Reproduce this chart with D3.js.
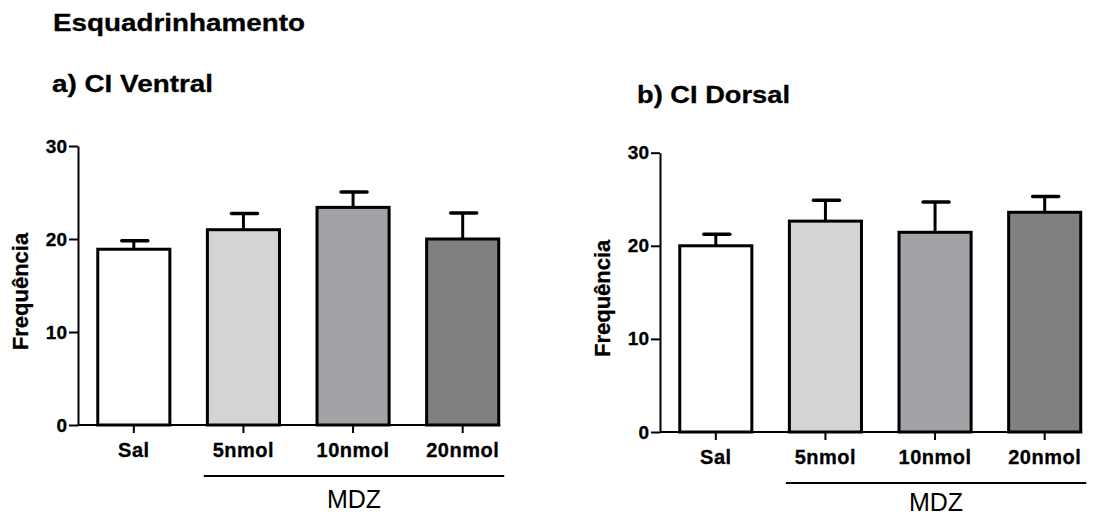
<html>
<head>
<meta charset="utf-8">
<title>Esquadrinhamento</title>
<style>
  body { margin: 0; background: #fff; }
  text { font-family: 'Liberation Sans', Arial, Helvetica, sans-serif; }
</style>
<script src="https://cdnjs.cloudflare.com/ajax/libs/d3/7.8.5/d3.min.js"></script>
</head>
<body>
<div id="plot"></div>
<script>
  // data
  var categories = ["Sal", "5nmol", "10nmol", "20nmol"];
  var ventralMeans = [18.9, 21.0, 23.4, 20.0];
  var ventralErr   = [0.9, 1.75, 1.65, 2.8];
  var dorsalMeans  = [20.0, 22.65, 21.45, 23.6];
  var dorsalErr    = [1.25, 2.25, 3.25, 1.7];
  var yTicks = [0, 10, 20, 30];
  var fills = ["#ffffff", "#d4d4d4", "#a3a2a7", "#808080"];

  var w = 1097, h = 520;

  var svg = d3.select("#plot").append("svg")
      .attr("width", w)
      .attr("height", h);

  svg.append("text")
     .attr("x", 53).attr("y", 31)
     .attr("font-size", 24).attr("font-weight", "bold")
     .attr("stroke", "#000").attr("stroke-width", 0.3)
     .attr("textLength", 252).attr("lengthAdjust", "spacingAndGlyphs")
     .text("Esquadrinhamento");

  function panel(opt) {
    var g = svg.append("g");

    var y = d3.scaleLinear().domain([0, 30]).range([opt.y0, opt.y30]);
    var x = d3.scaleBand().domain(categories)
        .range([opt.x0 + 1, opt.x0 + 1 + 438.5])
        .paddingInner(0.315).paddingOuter(0.1575);

    // title
    g.append("text")
     .attr("x", opt.titleX).attr("y", opt.titleY)
     .attr("font-size", 24).attr("font-weight", "bold")
     .attr("stroke", "#000").attr("stroke-width", 0.3)
     .attr("textLength", opt.titleLen).attr("lengthAdjust", "spacingAndGlyphs")
     .text(opt.title);

    // error bars (under the bars)
    g.selectAll(".err").data(categories).enter().append("g")
     .each(function(c, i) {
        var cx = x(c) + x.bandwidth() / 2;
        var top = y(opt.means[i] + opt.err[i]);
        d3.select(this).append("line")
          .attr("x1", cx).attr("x2", cx)
          .attr("y1", y(opt.means[i])).attr("y2", top)
          .attr("stroke", "#000").attr("stroke-width", 3);
        d3.select(this).append("line")
          .attr("x1", cx - 12).attr("x2", cx + 14)
          .attr("y1", top).attr("y2", top)
          .attr("stroke", "#000").attr("stroke-width", 3.5)
          .attr("stroke-linecap", "round");
     });

    // bars
    g.selectAll(".bar").data(categories).enter().append("rect")
     .attr("x", function(c) { return x(c) + 1.5; })
     .attr("width", x.bandwidth() - 3)
     .attr("y", function(c, i) { return y(opt.means[i]); })
     .attr("height", function(c, i) { return opt.y0 - y(opt.means[i]); })
     .attr("fill", function(c, i) { return fills[i]; })
     .attr("stroke", "#000").attr("stroke-width", 3);

    // y axis
    var yAxis = d3.axisLeft(y).tickValues(yTicks).tickSize(9).tickPadding(2).tickSizeOuter(0);
    var ya = g.append("g").attr("transform", "translate(" + opt.x0 + ",0)").call(yAxis);
    ya.select(".domain").attr("stroke-width", 2);
    ya.selectAll(".tick line").attr("stroke-width", 2);
    ya.selectAll(".tick text")
      .attr("font-size", 19).attr("font-weight", "bold")
      .attr("font-family", "'Liberation Sans', Arial, sans-serif")
      .attr("stroke", "#000").attr("stroke-width", 0.3)
      .attr("fill", "#000");

    // x axis
    var lastRight = x(categories[categories.length - 1]) + x.bandwidth();
    var xAxis = d3.axisBottom(x).tickSize(8).tickPadding(10).tickSizeOuter(0);
    var xa = g.append("g").attr("transform", "translate(0," + opt.y0 + ")").call(xAxis);
    xa.select(".domain").remove();
    xa.append("line")
      .attr("x1", opt.x0).attr("x2", lastRight)
      .attr("stroke", "#000").attr("stroke-width", 2);
    xa.selectAll(".tick line").attr("stroke-width", 2);
    xa.selectAll(".tick text")
      .attr("font-size", 20).attr("font-weight", "bold")
      .attr("letter-spacing", "0.5px")
      .attr("font-family", "'Liberation Sans', Arial, sans-serif")
      .attr("stroke", "#000").attr("stroke-width", 0.3)
      .attr("fill", "#000");

    // y label
    g.append("text")
     .attr("transform", "translate(" + (opt.x0 - 50) + "," + ((opt.y0 + opt.y30) / 2 + 6) + ") rotate(-90)")
     .attr("text-anchor", "middle")
     .attr("font-size", 22).attr("font-weight", "bold")
     .attr("stroke", "#000").attr("stroke-width", 0.3)
     .text("Frequência");

    // MDZ bracket
    var mx1 = x("5nmol") - 2, mx2 = lastRight + 4;
    g.append("line")
     .attr("x1", mx1).attr("x2", mx2)
     .attr("y1", opt.y0 + 51).attr("y2", opt.y0 + 51)
     .attr("stroke", "#000").attr("stroke-width", 2);
    g.append("text")
     .attr("x", (mx1 + mx2) / 2).attr("y", opt.mdzY)
     .attr("text-anchor", "middle")
     .attr("font-size", 25)
     .text("MDZ");
  }

  panel({ x0: 78, y0: 425, y30: 146, means: ventralMeans, err: ventralErr, mdzY: 508,
          title: "a) CI Ventral", titleX: 52, titleY: 92, titleLen: 161 });
  panel({ x0: 660, y0: 432, y30: 152.7, means: dorsalMeans, err: dorsalErr, mdzY: 511,
          title: "b) CI Dorsal", titleX: 637, titleY: 103, titleLen: 153 });
</script>
</body>
</html>
